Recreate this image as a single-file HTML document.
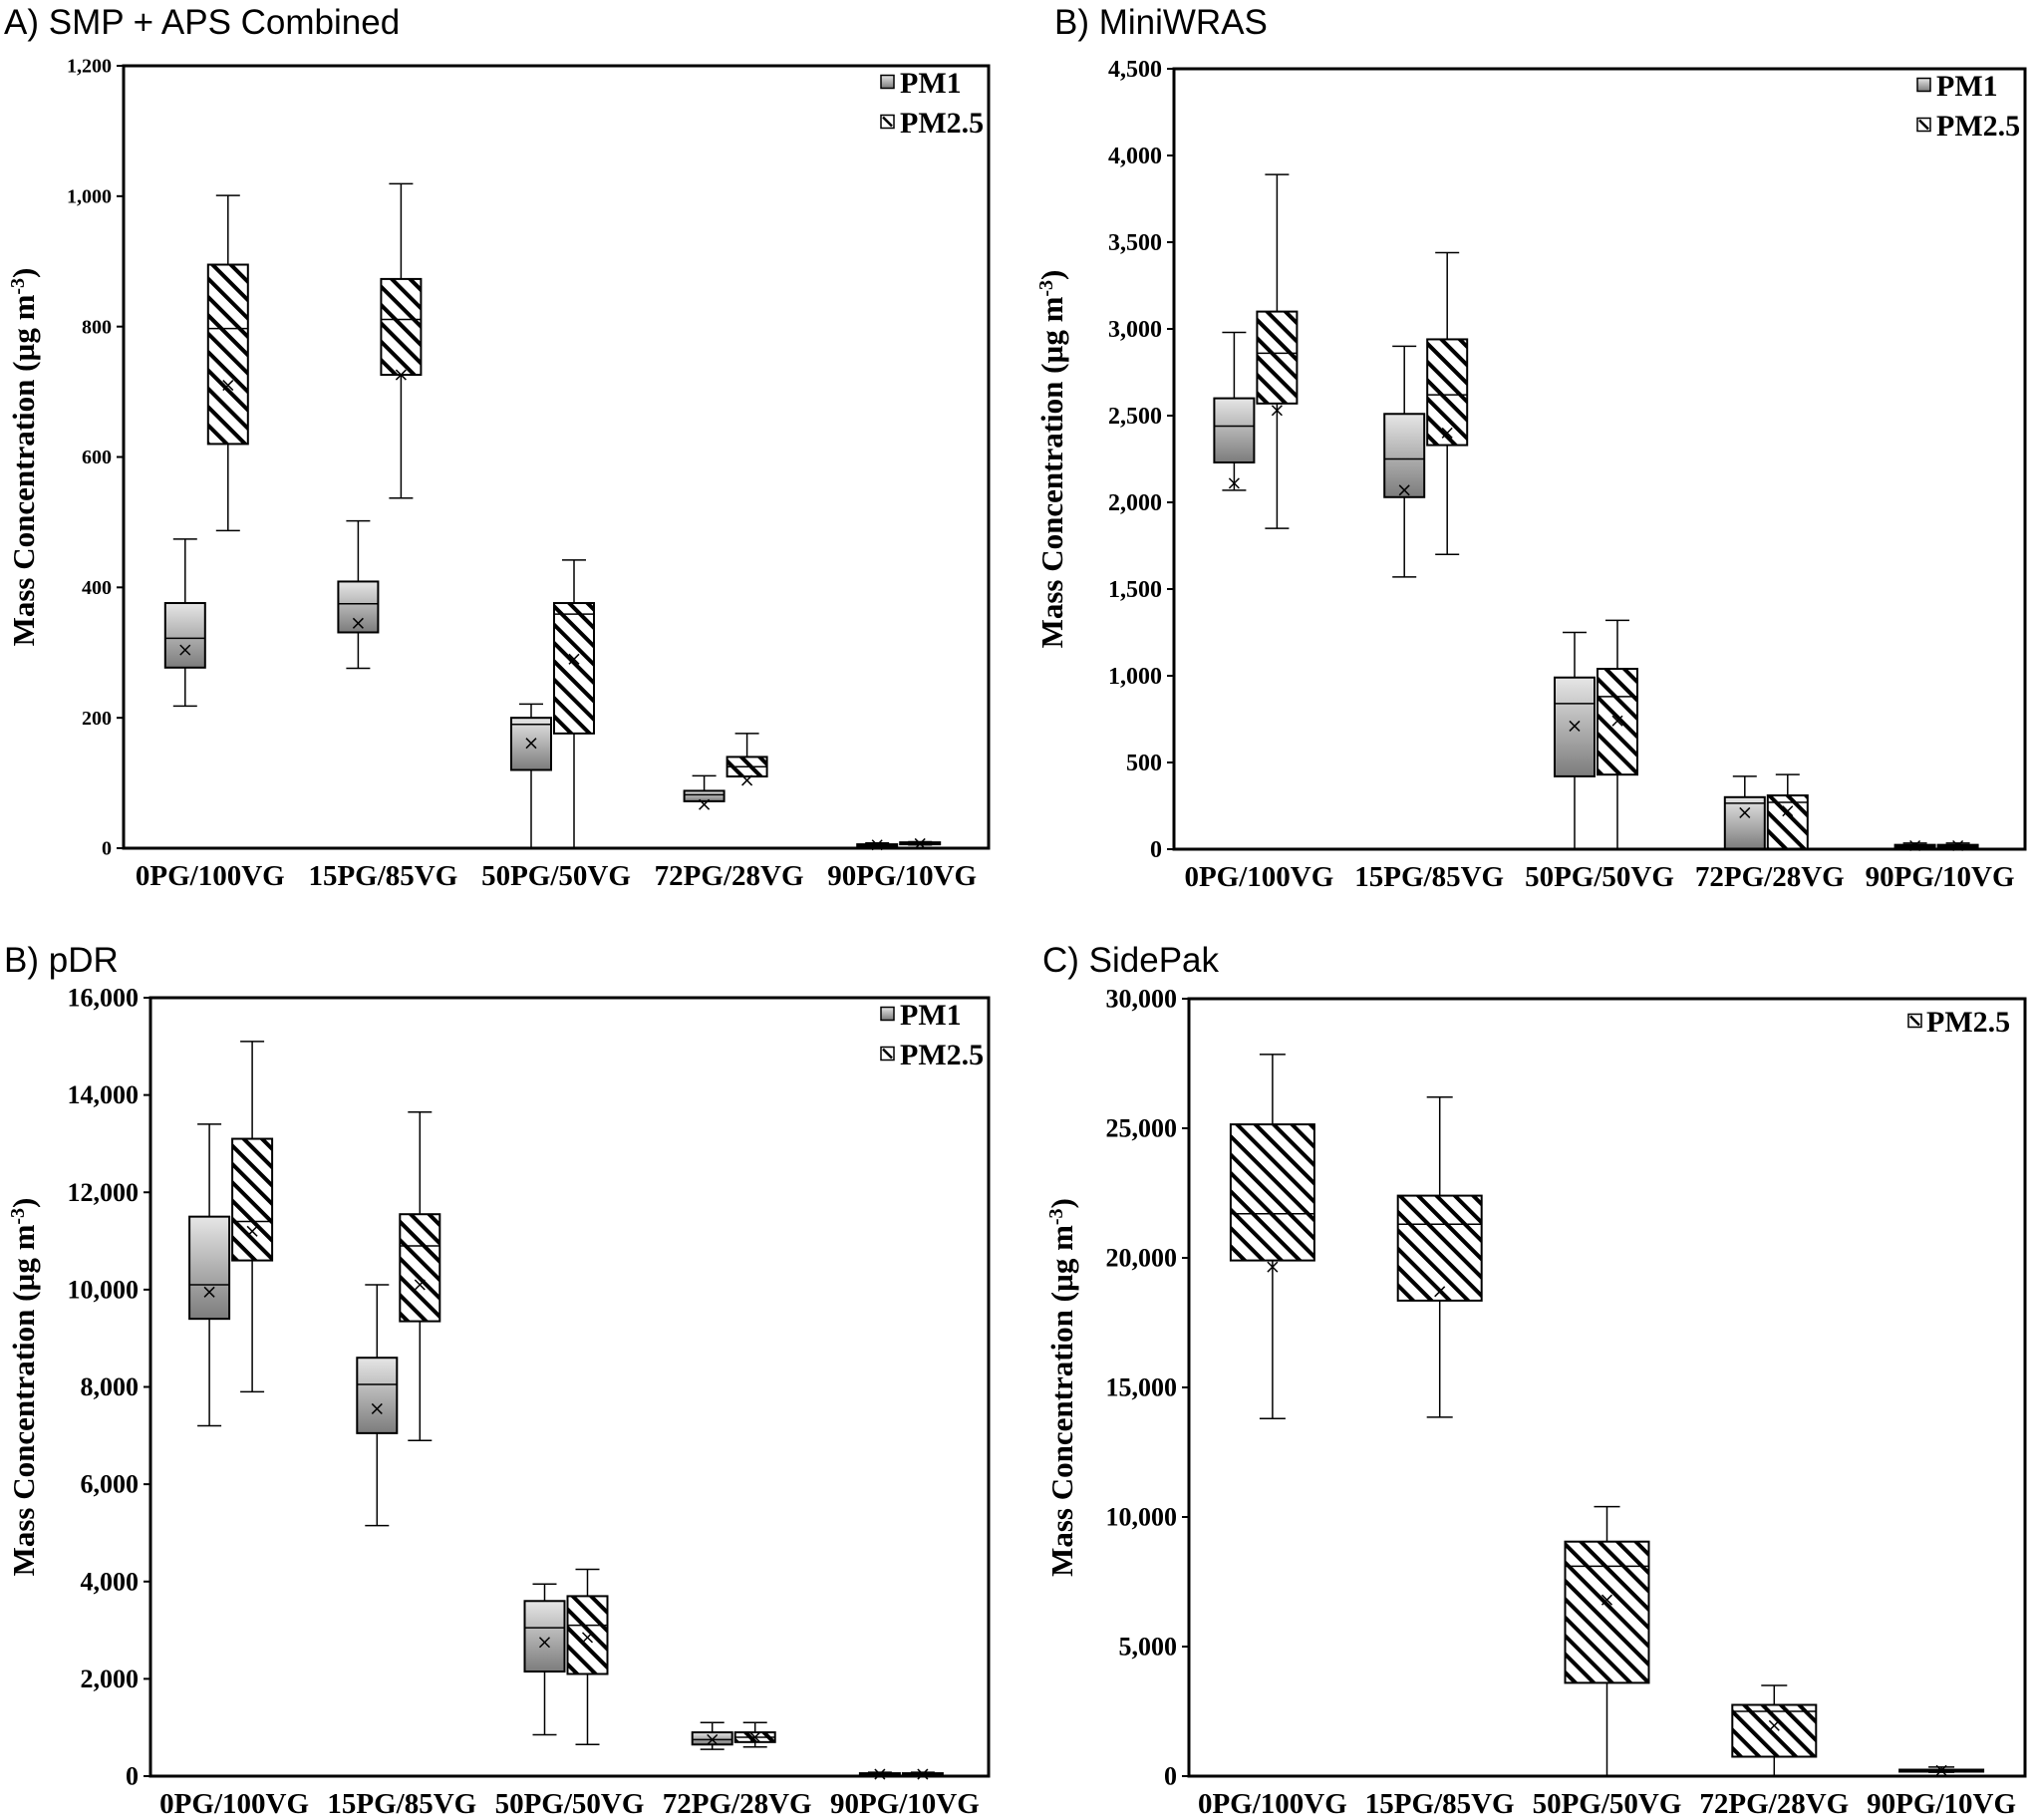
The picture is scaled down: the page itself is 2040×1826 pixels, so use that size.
<!DOCTYPE html>
<html><head><meta charset="utf-8">
<style>
html,body{margin:0;padding:0;background:#fff;}
svg{display:block;}
.ttl{font-family:"Liberation Sans",sans-serif;font-size:35px;fill:#000;}
.tick{font-family:"Liberation Serif",serif;font-weight:bold;fill:#000;}
.xl{font-family:"Liberation Serif",serif;font-weight:bold;font-size:29px;fill:#000;}
.yt{font-family:"Liberation Serif",serif;font-weight:bold;font-size:31px;fill:#000;}
.lg{font-family:"Liberation Serif",serif;font-weight:bold;font-size:30px;fill:#000;}
</style></head>
<body>
<svg id="fig" width="2040" height="1826" viewBox="0 0 2040 1826" xmlns="http://www.w3.org/2000/svg">
<defs>
<linearGradient id="gradPM1" x1="0" y1="0" x2="0" y2="1">
<stop offset="0" stop-color="#e6e6e6"/><stop offset="1" stop-color="#7c7c7c"/>
</linearGradient>
<pattern id="hatch" patternUnits="userSpaceOnUse" width="13" height="13" patternTransform="rotate(-45)">
<rect width="13" height="13" fill="#fff"/>
<rect x="0" y="0" width="4" height="13" fill="#000"/>
</pattern>
</defs>
<text class="ttl" x="4" y="34">A) SMP + APS Combined</text>
<text class="ttl" x="1058" y="34">B) MiniWRAS</text>
<text class="ttl" x="4" y="975">B) pDR</text>
<text class="ttl" x="1046" y="975">C) SidePak</text>
</svg>
<script>
// Shared categories
const categories = ["0PG/100VG","15PG/85VG","50PG/50VG","72PG/28VG","90PG/10VG"];
// Each stat row: [whiskerLow, q1, median, q3, whiskerHigh, mean]
// Panel A: SMP + APS
const aTicks = [0,200,400,600,800,1000,1200];
const aPM1 = [[218,277,322,376,474,304],[276,331,375,409,502,345],[0,120,190,200,221,161],[72,72,82,88,111,67],[3,4,5,6,8,5]];
const aPM25 = [[487,620,797,895,1001,710],[537,726,811,873,1019,726],[0,176,359,376,442,290],[110,110,125,140,176,104],[5,6,7,9,10,7]];
// Panel B: MiniWRAS
const bTicks = [0,500,1000,1500,2000,2500,3000,3500,4000,4500];
const bPM1 = [[2070,2230,2440,2600,2980,2110],[1570,2030,2250,2510,2900,2070],[0,420,840,990,1250,710],[0,0,265,300,420,210],[10,15,20,25,35,20]];
const bPM25 = [[1850,2570,2860,3100,3890,2530],[1700,2330,2620,2940,3440,2400],[0,430,880,1040,1320,740],[0,0,270,310,430,220],[10,15,20,25,35,20]];
// Panel B: pDR
const pTicks = [0,2000,4000,6000,8000,10000,12000,14000,16000];
const pPM1 = [[7200,9400,10100,11500,13400,9950],[5150,7050,8050,8600,10100,7550],[850,2150,3050,3600,3950,2750],[550,650,750,900,1100,750],[0,20,40,60,80,40]];
const pPM25 = [[7900,10600,11400,13100,15100,11200],[6900,9350,10900,11550,13650,10100],[650,2100,3100,3700,4250,2850],[600,700,800,900,1100,800],[0,20,40,60,80,40]];
// Panel C: SidePak
const cTicks = [0,5000,10000,15000,20000,25000,30000];
const cPM25 = [[13800,19900,21700,25150,27850,19650],[13850,18350,21300,22400,26200,18700],[0,3600,8100,9050,10400,6800],[0,750,2500,2750,3500,1950],[150,200,220,250,350,220]];

const NS = "http://www.w3.org/2000/svg";
const svg = document.getElementById("fig");
function mk(tag, attrs, parent){
  const e = document.createElementNS(NS, tag);
  for (const k in attrs) e.setAttribute(k, attrs[k]);
  (parent||svg).appendChild(e);
  return e;
}
function fmt(v){ return v.toLocaleString("en-US"); }

function drawPanel(id, L, T, R, B, ticks, series, tickFont, yTitleX, legend, legendBig){
  const g = mk("g", {});
  
  
  const maxV = ticks[ticks.length-1];
  const y = v => B - (v / maxV) * (B - T);
  const slot = (R - L) / categories.length;
  const xc = i => L + slot * (i + 0.5);
  ticks.forEach(t => {
    const tk = mk("line", {x1:L-7, x2:L, y1:y(t), y2:y(t), stroke:"#000", "stroke-width":2}, g);
    
    
    const tl = mk("text", {x:L-12, y:y(t)+tickFont*0.33, "text-anchor":"end", class:"tick", "font-size":tickFont}, g);
    tl.textContent = fmt(t);
    
    
  });
  categories.forEach((c, i) => {
    const t = mk("text", {x:xc(i), y:B+37, "text-anchor":"middle", class:"xl"}, g);
    t.textContent = c;
    
    
  });
  const yt = mk("text", {x:0, y:0, "text-anchor":"middle", class:"yt", transform:`translate(${yTitleX},${(T+B)/2}) rotate(-90)`}, g);
  yt.innerHTML = 'Mass Concentration (µg m<tspan dy="-10" font-size="20">-3</tspan><tspan dy="10">)</tspan>';
  
  
  series.forEach(s => {
    s.data.forEach((d, i) => {
      const x0 = xc(i) + s.off, x1 = x0 + s.w, cx = (x0 + x1) / 2;
      const bg = mk("g", {}, g);
      
      
      const cap = Math.min(26, s.w*0.6);
      mk("line", {x1:cx, x2:cx, y1:y(d[3]), y2:y(d[4]), stroke:"#000", "stroke-width":1.5}, bg);
      mk("line", {x1:cx, x2:cx, y1:y(d[1]), y2:y(d[0]), stroke:"#000", "stroke-width":1.5}, bg);
      mk("line", {x1:cx-cap/2, x2:cx+cap/2, y1:y(d[4]), y2:y(d[4]), stroke:"#000", "stroke-width":1.5}, bg);
      mk("line", {x1:cx-cap/2, x2:cx+cap/2, y1:y(d[0]), y2:y(d[0]), stroke:"#000", "stroke-width":1.5}, bg);
      const h = Math.max(2, y(d[1]) - y(d[3]));
      mk("rect", {x:x0, y:y(d[3]), width:s.w, height:h, fill:s.fill, stroke:"#000", "stroke-width":2}, bg);
      mk("line", {x1:x0, x2:x1, y1:y(d[2]), y2:y(d[2]), stroke:"#000", "stroke-width":1.5}, bg);
      const my = y(d[5]), m = 5;
      mk("path", {d:`M${cx-m},${my-m}L${cx+m},${my+m}M${cx+m},${my-m}L${cx-m},${my+m}`, stroke:"#000", "stroke-width":1.5, fill:"none"}, bg);
    });
  });
  const fr = mk("rect", {x:L, y:T, width:R-L, height:B-T, fill:"none", stroke:"#000", "stroke-width":3}, g);
  
  
  legend.forEach((lg, k) => {
    const ly = T + (legendBig ? 22 : 16) + k * 40;
    const e = mk("g", {}, g);
    
    
    const ms = 13;
    const mx = R-(legendBig?117:108);
    mk("rect", {x:mx, y:ly-ms/2, width:ms, height:ms, fill:lg.fill==="hatch"?"#fff":"url(#gradPM1)", stroke:"#000", "stroke-width":1.5}, e);
    if (lg.fill==="hatch") mk("line", {x1:mx+2, y1:ly-ms/2+2, x2:mx+ms-2, y2:ly+ms/2-2, stroke:"#000", "stroke-width":2.5}, e);
    const t = mk("text", {x:R-(legendBig?99:89), y:ly+11, class:"lg", "font-size":legendBig?36:30}, e);
    t.textContent = lg.label;
  });
}

const W = 40;
drawPanel("panel-a-smp-aps", 124, 66, 992, 851, aTicks,
  [{name:"pm1", data:aPM1, off:-45, w:W, fill:"url(#gradPM1)"},{name:"pm25", data:aPM25, off:-2, w:W, fill:"url(#hatch)"}],
  20, 34, [{name:"pm1",label:"PM1",fill:"grad"},{name:"pm25",label:"PM2.5",fill:"hatch"}], false);
drawPanel("panel-b-miniwras", 1178, 69, 2032, 852, bTicks,
  [{name:"pm1", data:bPM1, off:-45, w:W, fill:"url(#gradPM1)"},{name:"pm25", data:bPM25, off:-2, w:W, fill:"url(#hatch)"}],
  24, 1066, [{name:"pm1",label:"PM1",fill:"grad"},{name:"pm25",label:"PM2.5",fill:"hatch"}], false);
drawPanel("panel-b-pdr", 151, 1001, 992, 1782, pTicks,
  [{name:"pm1", data:pPM1, off:-45, w:W, fill:"url(#gradPM1)"},{name:"pm25", data:pPM25, off:-2, w:W, fill:"url(#hatch)"}],
  26, 34, [{name:"pm1",label:"PM1",fill:"grad"},{name:"pm25",label:"PM2.5",fill:"hatch"}], false);
drawPanel("panel-c-sidepak", 1193, 1002, 2032, 1782, cTicks,
  [{name:"pm25", data:cPM25, off:-42, w:84, fill:"url(#hatch)"}],
  26, 1076, [{name:"pm25",label:"PM2.5",fill:"hatch"}], true);
</script>
</body></html>
